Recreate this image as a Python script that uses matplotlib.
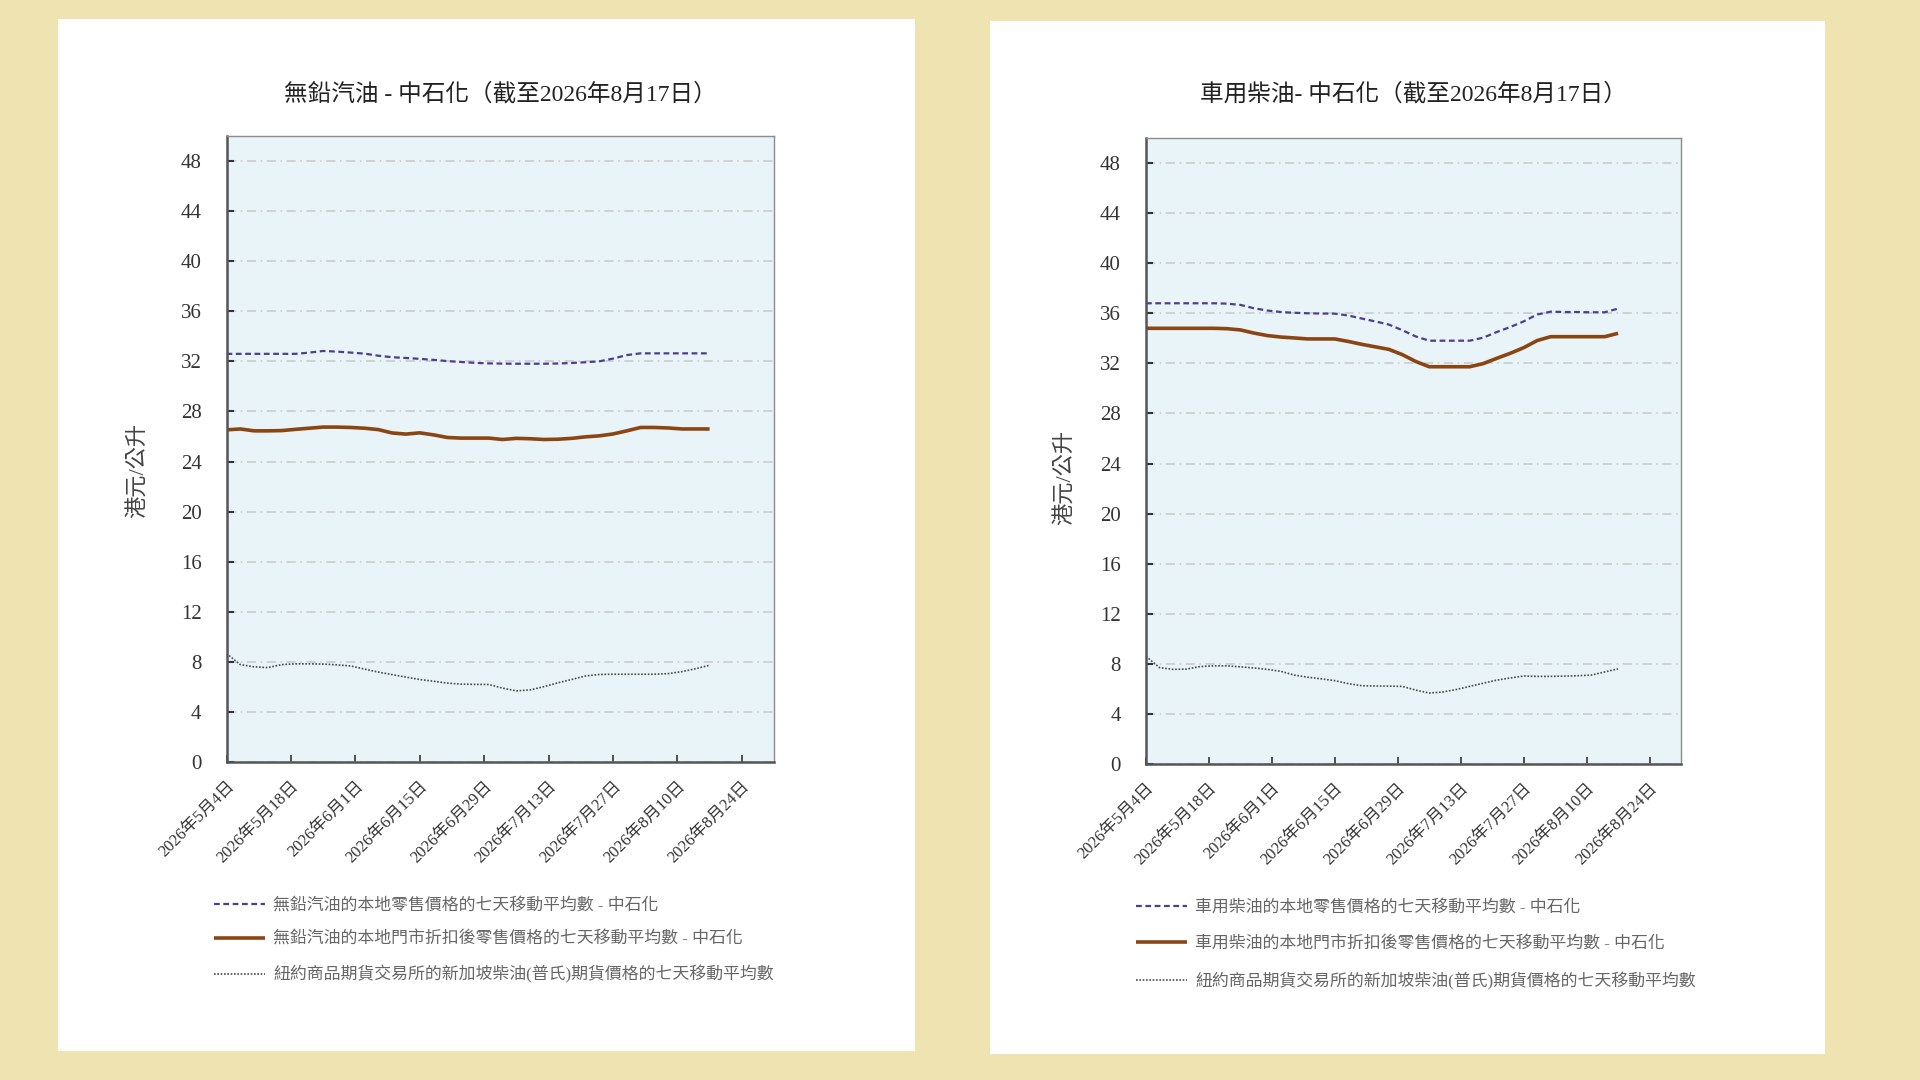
import matplotlib

matplotlib.use("Agg")

import matplotlib.pyplot as plt
import pandas as pd
from matplotlib.patches import Rectangle


plt.rcParams["font.family"] = ["Liberation Serif", "Noto Sans CJK TC", "DejaVu Sans"]

DATES = [
    "2026-05-04", "2026-05-07", "2026-05-10", "2026-05-13", "2026-05-16",
    "2026-05-19", "2026-05-22", "2026-05-25", "2026-05-28", "2026-05-31",
    "2026-06-03", "2026-06-06", "2026-06-09", "2026-06-12", "2026-06-15",
    "2026-06-18", "2026-06-21", "2026-06-24", "2026-06-27", "2026-06-30",
    "2026-07-03", "2026-07-06", "2026-07-09", "2026-07-12", "2026-07-15",
    "2026-07-18", "2026-07-21", "2026-07-24", "2026-07-27", "2026-07-30",
    "2026-08-02", "2026-08-05", "2026-08-08", "2026-08-11", "2026-08-14",
    "2026-08-17",
]

# 無鉛汽油
PETROL_RETAIL = [
    32.6, 32.6, 32.6, 32.6, 32.6, 32.6, 32.7, 32.83, 32.78, 32.7,
    32.62, 32.45, 32.33, 32.27, 32.2, 32.12, 32.02, 31.95, 31.88, 31.84,
    31.82, 31.81, 31.81, 31.81, 31.83, 31.87, 31.93, 32.0, 32.22, 32.5,
    32.64, 32.64, 32.64, 32.64, 32.64, 32.64,
]
PETROL_DISCOUNT = [
    26.53, 26.6, 26.45, 26.45, 26.47, 26.57, 26.66, 26.75, 26.75, 26.72,
    26.66, 26.55, 26.28, 26.19, 26.29, 26.13, 25.92, 25.87, 25.87, 25.87,
    25.76, 25.85, 25.82, 25.76, 25.78, 25.85, 25.97, 26.05, 26.2, 26.45,
    26.72, 26.72, 26.68, 26.6, 26.6, 26.6,
]
PETROL_FUTURES = [
    8.67, 7.78, 7.6, 7.54, 7.78, 7.84, 7.84, 7.82, 7.76, 7.67,
    7.42, 7.18, 6.98, 6.78, 6.59, 6.45, 6.3, 6.22, 6.2, 6.19,
    5.9, 5.68, 5.76, 6.02, 6.32, 6.59, 6.87, 6.99, 7.01, 7.01,
    7.01, 7.01, 7.06, 7.22, 7.45, 7.73,
]

# 車用柴油
DIESEL_RETAIL = [
    36.8, 36.8, 36.8, 36.8, 36.8, 36.8, 36.77, 36.67, 36.4, 36.22,
    36.1, 36.04, 36.0, 35.98, 35.97, 35.82, 35.58, 35.35, 35.1, 34.65,
    34.15, 33.81, 33.81, 33.81, 33.81, 34.05, 34.5, 34.9, 35.35, 35.9,
    36.13, 36.1, 36.1, 36.08, 36.08, 36.37,
]
DIESEL_DISCOUNT = [
    34.8, 34.8, 34.8, 34.8, 34.8, 34.8, 34.77, 34.67, 34.42, 34.22,
    34.1, 34.03, 33.95, 33.95, 33.95, 33.75, 33.52, 33.32, 33.12, 32.7,
    32.15, 31.73, 31.73, 31.73, 31.73, 31.98, 32.4, 32.8, 33.25, 33.82,
    34.13, 34.13, 34.13, 34.13, 34.13, 34.4,
]
DIESEL_FUTURES = [
    8.6, 7.7, 7.56, 7.58, 7.78, 7.84, 7.84, 7.76, 7.67, 7.56,
    7.4, 7.1, 6.93, 6.8, 6.66, 6.42, 6.25, 6.23, 6.22, 6.2,
    5.9, 5.67, 5.75, 5.95, 6.2, 6.45, 6.7, 6.87, 7.03, 7.0,
    7.0, 7.02, 7.05, 7.1, 7.35, 7.6,
]

TICK_DATES = [
    "2026-05-04", "2026-05-18", "2026-06-01", "2026-06-15", "2026-06-29",
    "2026-07-13", "2026-07-27", "2026-08-10", "2026-08-24",
]
Y_TICKS = [0, 4, 8, 12, 16, 20, 24, 28, 32, 36, 40, 44, 48]

TITLES = [
    "無鉛汽油 - 中石化（截至2026年8月17日）",
    "車用柴油- 中石化（截至2026年8月17日）",
]
LEGENDS = [
    [
        "無鉛汽油的本地零售價格的七天移動平均數 - 中石化",
        "無鉛汽油的本地門市折扣後零售價格的七天移動平均數 - 中石化",
        "紐約商品期貨交易所的新加坡柴油(普氏)期貨價格的七天移動平均數",
    ],
    [
        "車用柴油的本地零售價格的七天移動平均數 - 中石化",
        "車用柴油的本地門市折扣後零售價格的七天移動平均數 - 中石化",
        "紐約商品期貨交易所的新加坡柴油(普氏)期貨價格的七天移動平均數",
    ],
]
Y_LABEL = "港元/公升"

BACKGROUND = "#EFE3B1"
PLOT_FACE = "#E8F4F8"
PURPLE = "#4E3F8C"
BROWN = "#8B4513"
DOTTED = "#4A4A4A"


def draw_panel(figure, axis_box, panel_box, series, title, labels,
               legend_anchor, legend_spacing, label_coords):
    figure.add_artist(
        Rectangle(
            panel_box[:2],
            panel_box[2],
            panel_box[3],
            transform=figure.transFigure,
            facecolor="white",
            edgecolor="none",
            zorder=0,
        )
    )

    axis = figure.add_axes(axis_box)
    axis.set_facecolor(PLOT_FACE)

    dates = pd.to_datetime(DATES)
    retail, discount, futures = series

    axis.plot(dates, retail, color=PURPLE, linewidth=1.6,
              linestyle=(0, (2.6, 1.6)), label=labels[0])
    axis.plot(dates, discount, color=BROWN, linewidth=2.6,
              solid_capstyle="butt", label=labels[1])
    axis.plot(dates, futures, color=DOTTED, linewidth=1.2,
              linestyle=(0, (1, 1)), label=labels[2])

    axis.set_xlim(pd.Timestamp("2026-05-04"), pd.Timestamp("2026-08-31"))
    axis.set_ylim(0, 50)

    axis.set_yticks(Y_TICKS)
    axis.set_yticklabels([str(v) for v in Y_TICKS])
    ticks = pd.to_datetime(TICK_DATES)
    axis.set_xticks(ticks)
    axis.set_xticklabels(
        [f"{t.year}年{t.month}月{t.day}日" for t in ticks],
        rotation=45,
        ha="right",
        va="top",
        rotation_mode="anchor",
    )

    axis.tick_params(axis="y", direction="in", length=5, width=1.5,
                     color="#333333", labelsize=15, labelcolor="#333333", pad=18)
    axis.tick_params(axis="x", direction="in", length=5, width=1.2,
                     color="#333333", labelsize=12, labelcolor="#333333", pad=12)

    axis.grid(axis="y", color="#C8C8C8", linewidth=1.1,
              linestyle=(0, (6, 3, 1, 3)))
    axis.set_axisbelow(True)

    for side in ["left", "bottom"]:
        axis.spines[side].set_color("#555555")
        axis.spines[side].set_linewidth(1.8)
    for side in ["top", "right"]:
        axis.spines[side].set_color("#8C8C8C")
        axis.spines[side].set_linewidth(1.0)

    axis.set_ylabel(Y_LABEL, fontsize=16, color="#444444")
    axis.yaxis.set_label_coords(*label_coords)

    center = axis_box[0] + axis_box[2] / 2
    figure.text(center, 1 - 94 / 1080, title, ha="center", va="center",
                fontsize=17, color="#222222")

    legend = axis.legend(
        loc="upper left",
        bbox_to_anchor=legend_anchor,
        bbox_transform=figure.transFigure,
        frameon=False,
        fontsize=12.2,
        handlelength=3.0,
        handletextpad=0.5,
        labelspacing=legend_spacing,
        borderpad=0,
        borderaxespad=0,
    )
    for text in legend.get_texts():
        text.set_color("#666666")

    return axis


def main() -> None:
    figure = plt.figure(figsize=(19.2, 10.8), dpi=100)
    figure.patch.set_facecolor(BACKGROUND)

    draw_panel(
        figure,
        [226.5 / 1920, 1 - 762 / 1080, 547.5 / 1920, 626 / 1080],
        [57.5 / 1920, 1 - 1051 / 1080, 857 / 1920, 1032 / 1080],
        [PETROL_RETAIL, PETROL_DISCOUNT, PETROL_FUTURES],
        TITLES[0],
        LEGENDS[0],
        (214 / 1920, 1 - 898 / 1080),
        1.05,
        (-0.142, 0.465),
    )

    draw_panel(
        figure,
        [1146 / 1920, 1 - 764 / 1080, 535 / 1920, 626 / 1080],
        [989.5 / 1920, 1 - 1054 / 1080, 835 / 1920, 1033 / 1080],
        [DIESEL_RETAIL, DIESEL_DISCOUNT, DIESEL_FUTURES],
        TITLES[1],
        LEGENDS[1],
        (1136 / 1920, 1 - 900 / 1080),
        1.18,
        (-0.131, 0.458),
    )

    figure.savefig("out.png", dpi=100, facecolor=BACKGROUND)
    plt.close(figure)


if __name__ == "__main__":
    main()
